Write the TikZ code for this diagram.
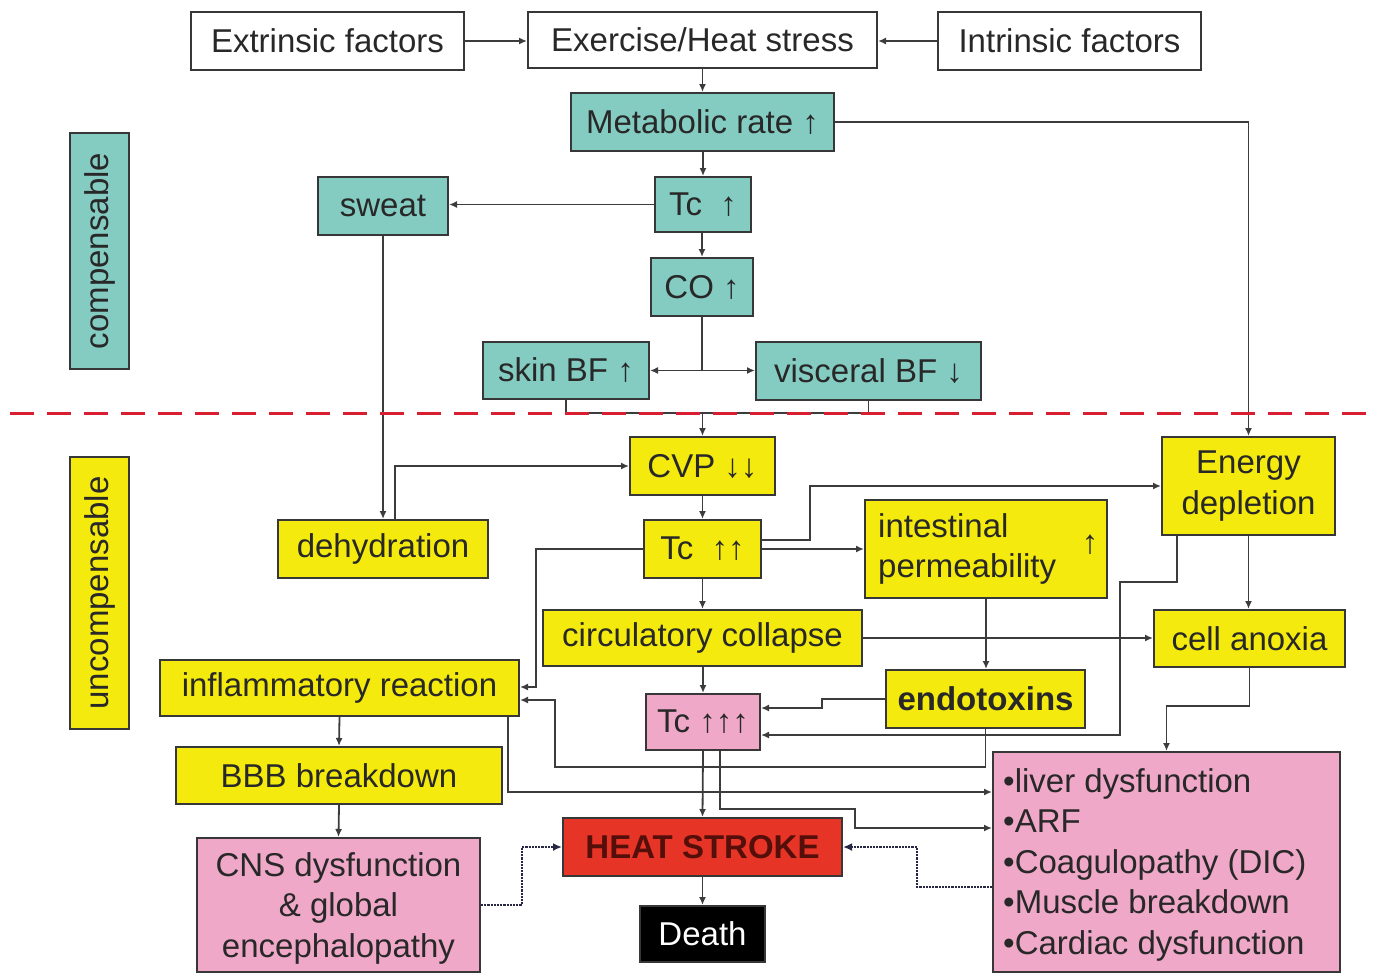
\documentclass[tikz,border=0pt]{standalone}
\usepackage{fontspec}
\setmainfont{Liberation Sans}
\usetikzlibrary{arrows.meta}
\definecolor{tealc}{RGB}{132,204,194}
\definecolor{yellc}{RGB}{244,234,14}
\definecolor{pinkc}{RGB}{240,168,200}
\definecolor{redc}{RGB}{230,52,38}
\definecolor{bordc}{RGB}{55,55,55}
\definecolor{txtc}{RGB}{40,40,40}
\definecolor{linec}{RGB}{60,60,60}
\definecolor{dotc}{RGB}{40,40,70}
\definecolor{dashc}{RGB}{218,30,50}
\definecolor{hstxt}{RGB}{85,15,10}
\newcommand\dgfont{\fontsize{33}{40.5}\selectfont}
\begin{document}
\begin{tikzpicture}[x=1pt,y=-1pt,
  box/.style={draw=bordc, line width=2pt, inner sep=0pt, font=\dgfont, text=txtc, align=center},
  wbox/.style={box, fill=white},
  tbox/.style={box, fill=tealc},
  ybox/.style={box, fill=yellc},
  pbox/.style={box, fill=pinkc},
  arr/.style={draw=linec, line width=1.8pt, -{Latex[length=8pt,width=7pt]}},
  ln/.style={draw=linec, line width=1.8pt},
  dotarr/.style={draw=dotc, line width=2.2pt, densely dotted, -{Latex[length=9pt,width=8pt]}},
  plain/.style={inner sep=0pt, font=\dgfont, text=txtc}
]
\useasboundingbox (0,0) rectangle (1373,975);

% top row
\node[wbox, minimum width=273pt, minimum height=58pt] (ext) at (327.5,41) {Extrinsic factors};
\node[wbox, minimum width=349pt, minimum height=56pt] (ex) at (702.5,40) {Exercise/Heat stress};
\node[wbox, minimum width=263pt, minimum height=58pt] (intr) at (1069.5,41) {Intrinsic factors};

% compensable part
\node[tbox, minimum width=263pt, minimum height=58pt] (met) at (702.5,122) {Metabolic rate ↑};
\node[tbox, minimum width=96pt, minimum height=55pt] (tc1) at (703,204.5) {Tc\ \ ↑};
\node[tbox, minimum width=130pt, minimum height=58pt] (sweat) at (383,206) {sweat};
\node[tbox, minimum width=102pt, minimum height=58pt] (co) at (702,287) {CO ↑};
\node[tbox, minimum width=166pt, minimum height=57pt] (skin) at (566,370.5) {skin BF ↑};
\node[tbox, minimum width=225pt, minimum height=58pt] (visc) at (868.5,371) {visceral BF ↓};
\node[tbox, rotate=90, minimum width=236pt, minimum height=59pt] (comp) at (99.5,251) {compensable};

% uncompensable part
\node[ybox, rotate=90, minimum width=272pt, minimum height=59pt] (uncomp) at (99.5,593) {uncompensable};
\node[ybox, minimum width=145pt, minimum height=58pt] (cvp) at (702.5,466) {CVP ↓↓};
\node[ybox, minimum width=210pt, minimum height=58pt] (dehyd) at (383,549) {dehydration};
\node[ybox, minimum width=117pt, minimum height=58pt] (tc2) at (702.5,549) {Tc\ \ ↑↑};
\node[ybox, minimum width=242pt, minimum height=98pt] (intest) at (986,549) {};
\node[plain, anchor=west, align=left] (intesttxt) at (878,549) {intestinal\\permeability};
\node[plain] (intestarr) at (1090,545) {↑};
\node[ybox, minimum width=173pt, minimum height=98pt] (energy) at (1248.5,486) {Energy\\depletion};
\node[ybox, minimum width=191pt, minimum height=57pt] (cell) at (1249.5,638.5) {cell anoxia};
\node[ybox, minimum width=319pt, minimum height=56pt] (circ) at (702.5,638) {circulatory collapse};
\node[ybox, minimum width=199pt, minimum height=58pt, font=\dgfont\bfseries] (endo) at (985.5,699) {endotoxins};
\node[pbox, minimum width=114pt, minimum height=56pt] (tc3) at (703,722) {Tc\ ↑↑↑};
\node[ybox, minimum width=359pt, minimum height=56pt] (infl) at (339.5,688) {inflammatory reaction};
\node[ybox, minimum width=326pt, minimum height=57pt] (bbb) at (339,775.5) {BBB breakdown};
\node[pbox, minimum width=283pt, minimum height=134pt] (cns) at (338.5,905) {};
\node[plain, align=center] (cnstxt) at (338.5,908) {CNS dysfunction\\\& global\\encephalopathy};
\node[box, fill=redc, text=hstxt, font=\dgfont\bfseries, minimum width=279pt, minimum height=58pt] (hs) at (702.5,847) {HEAT STROKE};
\node[box, fill=black, text=white, minimum width=125pt, minimum height=56pt] (death) at (702.5,934) {Death};
\node[pbox, minimum width=347pt, minimum height=220pt] (liver) at (1166.5,862) {};
\node[plain, anchor=north west, align=left] (livertxt) at (1003,768) {•liver dysfunction\\•ARF\\•Coagulopathy (DIC)\\•Muscle breakdown\\•Cardiac dysfunction};

% connectors, top
\draw[arr] (ext.east) -- (ext.east -| ex.west);
\draw[arr] (intr.west) -- (intr.west -| ex.east);
\draw[arr] (ex.south) -- (ex.south |- met.north);
\draw[arr] (met.east) -| (energy.north);
\draw[arr] (met.south -| tc1.north) -- (tc1.north);
\draw[arr] (tc1.west) -- (tc1.west -| sweat.east);
\draw[arr] (tc1.south -| co.north) -- (co.north);
\draw[ln] (co.south) -- (co.south |- skin.east) coordinate (cojunc);
\draw[arr] (cojunc) -- (skin.east);
\draw[arr] (cojunc) -- (cojunc -| visc.west);
\coordinate (bfj) at (702.5,413);
\draw[ln] (skin.south) |- (bfj) -| (visc.south);
\draw[arr] (bfj) -- (cvp.north);
\draw[arr] (sweat.south) -- (dehyd.north);
\draw[arr] (395,520) |- (cvp.west);
\draw[arr] (cvp.south) -- (tc2.north);
\draw[arr] (tc2.east) -- (tc2.east -| intest.west);
\draw[arr] (tc2.east |- 0,540) -- (810,540) |- (energy.west);
\draw[arr] (tc2.west) -- (536,549) |- (infl.east |- 0,687);
\draw[arr] (tc2.south) -- (circ.north);
\draw[arr] (circ.south -| tc3.north) -- (tc3.north);
\draw[arr] (circ.east) -- (circ.east -| cell.west);
\draw[arr] (energy.south) -- (energy.south |- cell.north);
\draw[arr] (intest.south) -- (intest.south |- endo.north);
\draw[arr] (endo.west) -- (822,699) |- (tc3.east |- 0,708);
\draw[arr] (energy.south -| 1177,0) -- (1177,582) -- (1120,582) -- (1120,735) -- (tc3.east |- 0,735);
\draw[arr] (cell.south) |- (liver.north |- 0,706) -- (liver.north);
\draw[arr] (endo.south) |- (555,767) |- (infl.east |- 0,700);
\draw[arr] (infl.south -| 508,0) |- (liver.west |- 0,792);
\draw[arr] (tc3.south) -- (hs.north);
\draw[arr] (tc3.south -| 720,0) -- (720,809) -- (855,809) |- (liver.west |- 0,828);
\draw[arr] (infl.south) -- (bbb.north);
\draw[arr] (bbb.south) -- (cns.north);
\draw[arr] (hs.south) -- (death.north);
\draw[dotarr] (cns.east |- 0,905) -- (522,905) |- (hs.west);
\draw[dotarr] (liver.west |- 0,887) -- (917,887) |- (hs.east);

% separator
\draw[dashc, line width=3pt, dash pattern=on 24pt off 13pt] (10,413) -- (1373,413);
\end{tikzpicture}
\end{document}
